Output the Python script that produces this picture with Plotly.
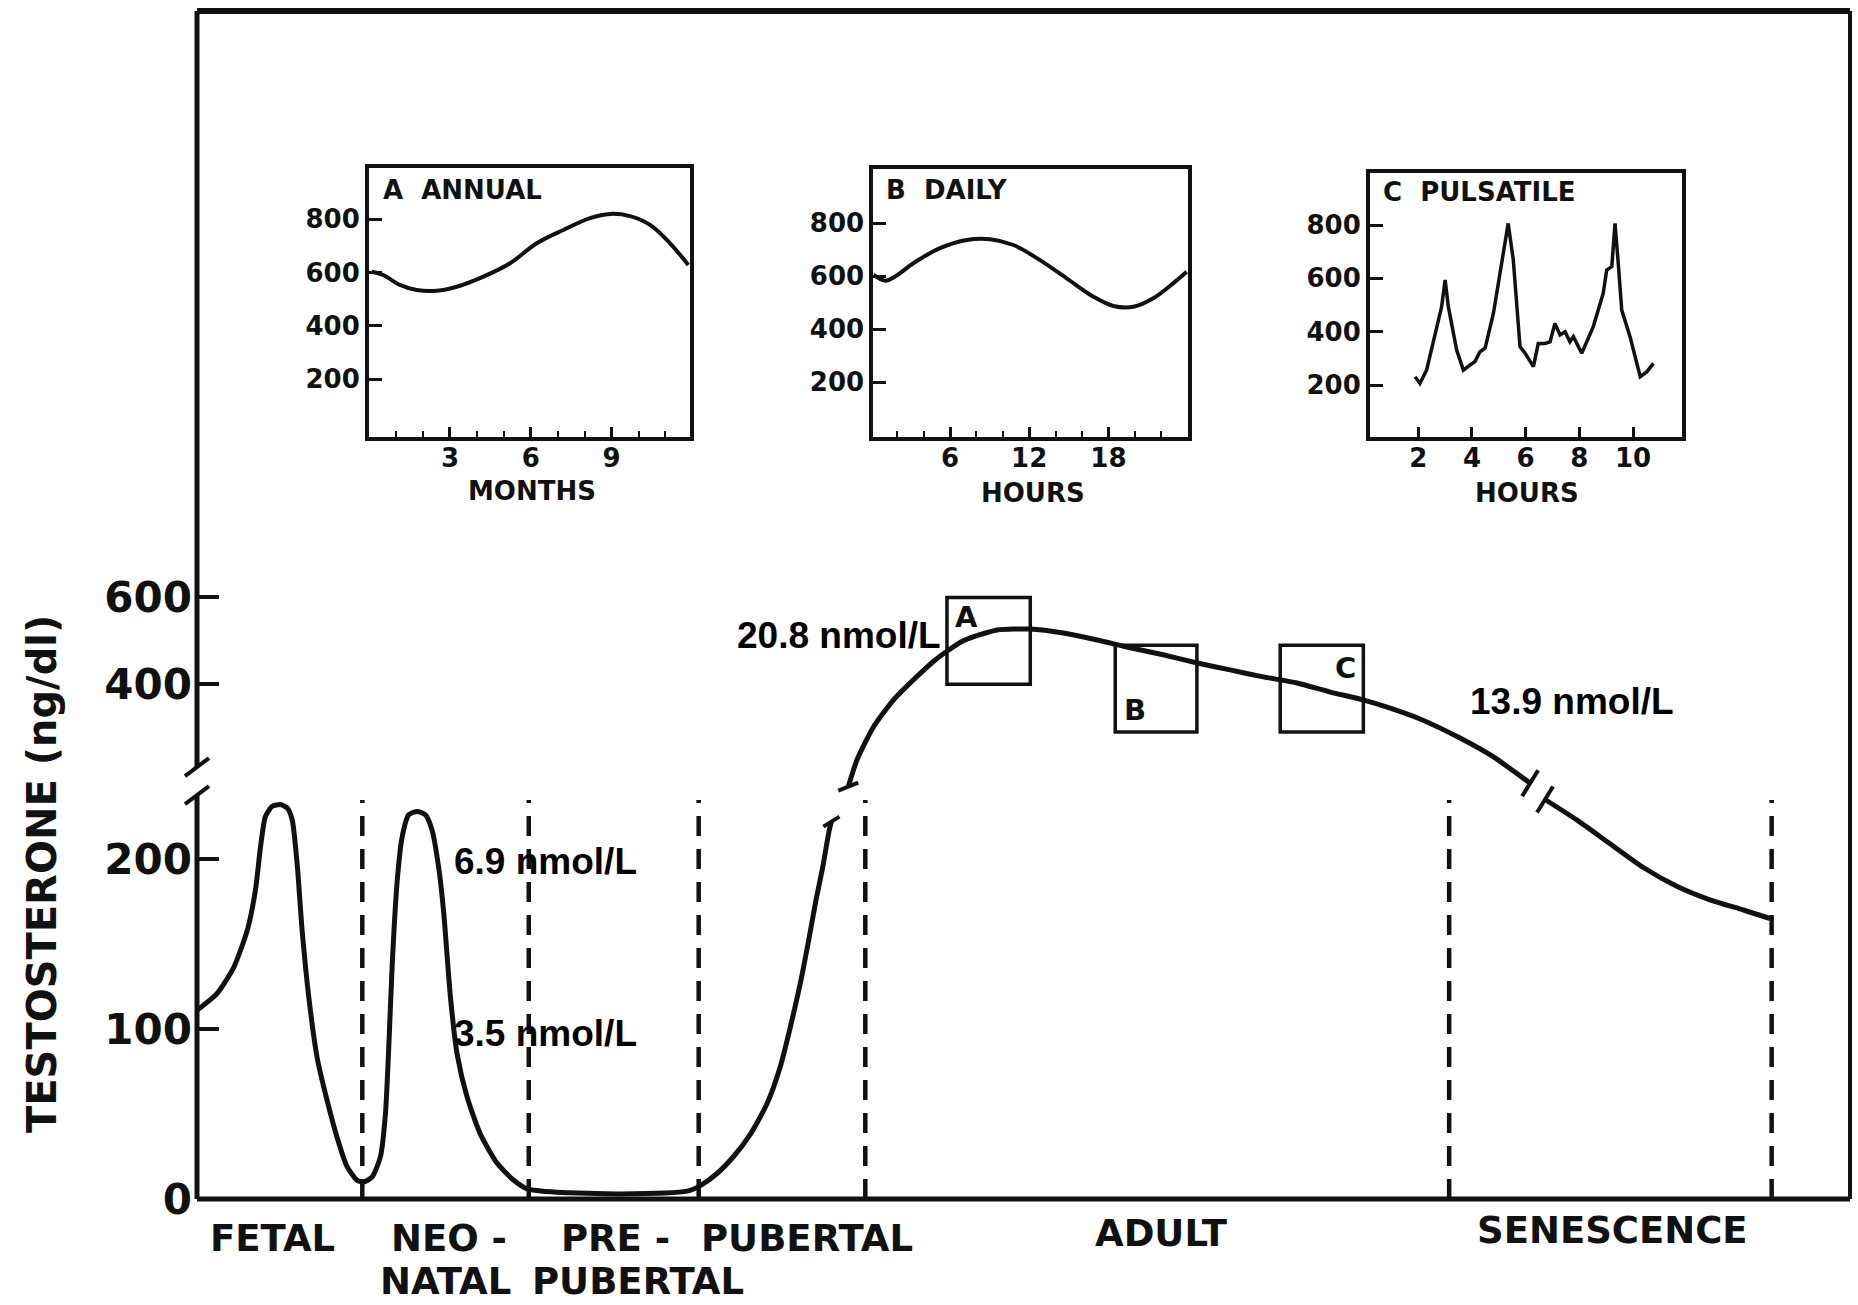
import plotly.graph_objects as go

# ---------------- figure geometry (layout only) ----------------
W, H = 1858, 1305
ML, MR, MT, MB = 197, 8, 11, 106
PW = W - ML - MR
PH = H - MT - MB


def px_x(X):
    return (X - ML) / PW


def px_y(Y):
    return (H - MB - Y) / PH


LOW_PX_PER_UNIT = 1.70          # lower (linear) part of the broken axis
HIGH_400_LOW = 302.8            # where 400 ng/dl sits on the lower scale
HIGH_RATIO = 0.2553             # upper-scale compression

# ---------------- data ----------------
stage_bounds = [10.0, 20.07, 30.35, 40.43, 75.75, 95.26]
stage_names = ["FETAL", "NEO -", "NATAL", "PRE -", "PUBERTAL", "PUBERTAL", "ADULT", "SENESCENCE"]
stage_label_x = [4.54, 15.27, 15.03, 25.31, 26.67, 36.89, 58.33, 85.65]
stage_label_y = [1238, 1238, 1281, 1238, 1281, 1238, 1233, 1230]

low_ticks = [0, 100, 200]
high_ticks = [400, 600]

# fetal -> neonatal -> prepubertal -> pubertal rise (lower scale, ng/dl)
early_x = [0.0, 1.22, 2.21, 3.04, 3.54, 3.84, 4.14, 4.55, 5.05, 5.46,
           5.76, 6.06, 6.36, 6.76, 7.27, 7.87, 8.48, 9.08, 9.69, 10.09,
           10.60, 11.10, 11.40, 11.60, 11.81, 12.11, 12.41, 12.81, 13.32, 13.82,
           14.22, 14.62, 14.93, 15.33, 15.74, 16.34, 17.15, 18.16, 19.16, 19.97,
           21.78, 25.61, 29.65, 30.45, 31.46, 32.46, 33.47, 34.48, 35.29, 35.89,
           36.50, 37.00, 37.45, 37.85, 38.25, 38.38]
early_t = [111, 121, 136, 158, 182, 207, 225, 231, 232, 230,
           223, 197, 158, 119, 83, 58, 36, 19, 11, 10,
           13, 25, 50, 89, 138, 187, 213, 226, 228, 226,
           217, 195, 168, 119, 85, 60, 38, 21, 11, 6,
           4, 3, 4.6, 7.9, 15, 25, 38, 56, 78, 101,
           127, 152, 176, 195, 217, 222]

# adult plateau (upper scale, ng/dl)
adult_x = [39.4, 39.93, 40.93, 42.14, 43.56, 44.66, 46.36, 48.41, 50.41, 52.40,
           54.46, 56.45, 58.45, 60.51, 62.50, 64.50, 66.55, 68.55, 70.54, 72.18,
           73.99, 76.41, 78.41, 80.65]
adult_t = [164, 226, 302, 364, 418, 456, 500, 525, 527, 518,
           502, 484, 468, 449, 433, 417, 403, 382, 364, 345,
           320, 276, 233, 172]

# senescence (lower scale, ng/dl)
late_x = [81.55, 83.47, 85.48, 87.50, 89.52, 91.53, 93.55, 95.16]
late_t = [235, 223, 209, 195, 184, 176, 170, 165]

# windows A, B, C on the adult curve (upper scale)
window_names = ["A", "B", "C"]
window_x0 = [45.37, 55.55, 65.53]
window_x1 = [50.41, 60.49, 70.56]
window_t0 = [400, 290, 290]
window_t1 = [600, 490, 490]
window_label_x = [46.58, 56.76, 69.46]
window_label_t = [556, 341, 437]

conv_labels = ["20.8 nmol/L", "6.9 nmol/L", "3.5 nmol/L", "13.9 nmol/L"]
conv_x = [32.55, 15.41, 15.41, 76.91]
conv_ypx = [635, 861, 1033, 701]

# inset A: annual
annual_month = [0.09, 0.52, 1.14, 1.76, 2.51, 3.25, 4.24, 5.23, 6.22, 7.21,
                8.20, 8.94, 9.68, 10.43, 11.17, 11.85]
annual_t = [603, 591, 554, 535, 532, 547, 585, 635, 710, 760,
            804, 820, 812, 779, 710, 629]
annual_ticks = [3, 6, 9]

# inset B: daily
daily_hour = [0.2, 1.1, 1.9, 3.22, 5.24, 7.27, 9.03, 10.80, 12.82, 14.84,
              16.86, 18.37, 19.89, 21.40, 22.92, 23.93]
daily_t = [605, 582, 600, 648, 705, 736, 739, 717, 660, 591,
           522, 487, 484, 516, 573, 616]
daily_ticks = [6, 12, 18]

# inset C: pulsatile
pulse_hour = [1.88, 2.06, 2.31, 2.62, 2.87, 3.00, 3.12, 3.43, 3.68, 3.93,
              4.11, 4.30, 4.49, 4.80, 5.11, 5.35, 5.54, 5.79, 5.98, 6.29,
              6.47, 6.72, 6.91, 7.09, 7.28, 7.47, 7.65, 7.78, 8.09, 8.52,
              8.89, 9.02, 9.21, 9.33, 9.46, 9.58, 9.89, 10.27, 10.52, 10.76]
pulse_t = [231, 206, 256, 381, 494, 594, 494, 331, 256, 275,
           288, 325, 338, 469, 669, 806, 669, 344, 319, 269,
           356, 356, 362, 431, 388, 400, 362, 381, 319, 419,
           544, 631, 644, 806, 644, 481, 381, 231, 250, 281]
pulse_ticks = [2, 4, 6, 8, 10]

inset_ticks = [200, 400, 600, 800]

# ---------------- figure ----------------
BLACK = "#111111"
BOLD_DJ = "DejaVu Sans"

fig = go.Figure()
main_line = dict(color=BLACK, width=5, shape="spline", smoothing=0.6)
fig.add_trace(go.Scatter(x=early_x, y=early_t, mode="lines", line=main_line,
                         xaxis="x", yaxis="y", hoverinfo="skip"))
fig.add_trace(go.Scatter(x=adult_x, y=adult_t, mode="lines", line=main_line,
                         xaxis="x", yaxis="y2", hoverinfo="skip"))
fig.add_trace(go.Scatter(x=late_x, y=late_t, mode="lines", line=main_line,
                         xaxis="x", yaxis="y", hoverinfo="skip"))

fig.add_trace(go.Scatter(x=annual_month, y=annual_t, mode="lines",
                         line=dict(color=BLACK, width=4, shape="spline"),
                         xaxis="x2", yaxis="y3", hoverinfo="skip"))
fig.add_trace(go.Scatter(x=daily_hour, y=daily_t, mode="lines",
                         line=dict(color=BLACK, width=4, shape="spline"),
                         xaxis="x3", yaxis="y4", hoverinfo="skip"))
fig.add_trace(go.Scatter(x=pulse_hour, y=pulse_t, mode="lines",
                         line=dict(color=BLACK, width=3.5),
                         xaxis="x4", yaxis="y5", hoverinfo="skip"))

low_range = [0, PH / LOW_PX_PER_UNIT]
high_range = [400 - HIGH_400_LOW / HIGH_RATIO,
              400 + (low_range[1] - HIGH_400_LOW) / HIGH_RATIO]

main_tickfont = dict(family=BOLD_DJ, size=42, color=BLACK, weight="bold")
common_main_y = dict(ticks="inside", ticklen=22, tickwidth=4, tickcolor=BLACK,
                     showline=False, showgrid=False, zeroline=False,
                     tickfont=main_tickfont, fixedrange=True, ticklabelstandoff=4)

inset_font = dict(family=BOLD_DJ, size=26, color=BLACK, weight="bold")


def inset_x(left, right, zero_px, px_per, ticks, anchor):
    return dict(domain=[px_x(left), px_x(right)], anchor=anchor,
                range=[(left - zero_px) / px_per, (right - zero_px) / px_per],
                tickmode="array", tickvals=ticks, ticks="inside", ticklen=10,
                tickwidth=3, tickcolor=BLACK, showline=True, mirror=True,
                linewidth=4, linecolor=BLACK, showgrid=False, zeroline=False,
                tickfont=inset_font, fixedrange=True, ticklabelstandoff=-6)


def inset_y(top, bottom, ref_val, ref_px, px_per, anchor):
    return dict(domain=[px_y(bottom), px_y(top)], anchor=anchor,
                range=[ref_val - (bottom - ref_px) / px_per, ref_val + (ref_px - top) / px_per],
                tickmode="array", tickvals=inset_ticks, ticks="inside", ticklen=13,
                tickwidth=3, tickcolor=BLACK, showline=True, mirror=True,
                linewidth=4, linecolor=BLACK, showgrid=False, zeroline=False,
                tickfont=inset_font, fixedrange=True)


layout = dict(
    width=W, height=H,
    margin=dict(l=ML, r=MR, t=MT, b=MB, pad=0),
    paper_bgcolor="white", plot_bgcolor="white",
    showlegend=False,
    xaxis=dict(domain=[0, 1], range=[0, 100], showline=False, showticklabels=False,
               ticks="", showgrid=False, zeroline=False, fixedrange=True, anchor="y"),
    yaxis=dict(domain=[0, 1], range=low_range, tickmode="array", tickvals=low_ticks,
               anchor="x", **common_main_y),
    yaxis2=dict(overlaying="y", side="left", anchor="x", range=high_range,
                tickmode="array", tickvals=high_ticks, **common_main_y),
    xaxis2=inset_x(369, 690, 369.2, 26.93, annual_ticks, "y3"),
    yaxis3=inset_y(168.3, 437.3, 200, 379.3, 0.2667, "x2"),
    xaxis3=inset_x(873.3, 1188.3, 870.8, 13.2, daily_ticks, "y4"),
    yaxis4=inset_y(169.3, 437.3, 600, 276, 0.265, "x3"),
    xaxis4=inset_x(1370, 1681.7, 1364.6, 26.84, pulse_ticks, "y5"),
    yaxis5=inset_y(172.7, 437.3, 800, 225, 0.2667, "x4"),
)
fig.update_layout(**layout)
fig.update_xaxes(minor=dict(ticks="inside", ticklen=6, tickwidth=2, tickcolor=BLACK, dtick=1),
                 selector=dict(anchor="y3"))
fig.update_xaxes(minor=dict(ticks="inside", ticklen=6, tickwidth=2, tickcolor=BLACK, dtick=2),
                 selector=dict(anchor="y4"))

shapes = []
frame = dict(color=BLACK, width=5)
# outer frame (top, right, bottom)
shapes.append(dict(type="line", xref="paper", yref="paper", x0=0, x1=1, y0=1, y1=1, line=dict(color=BLACK, width=6)))
shapes.append(dict(type="line", xref="paper", yref="paper", x0=1, x1=1, y0=0, y1=1, line=dict(color=BLACK, width=4)))
shapes.append(dict(type="line", xref="paper", yref="paper", x0=0, x1=1, y0=0, y1=0, line=frame))
# broken y axis
y_break_low, y_break_high = 237.6, 254.1
shapes.append(dict(type="line", xref="paper", yref="y", x0=0, x1=0, y0=0, y1=y_break_low, line=frame))
shapes.append(dict(type="line", xref="paper", yref="y", x0=0, x1=0, y0=y_break_high, y1=low_range[1], line=frame))
for yb in (y_break_low, y_break_high):
    shapes.append(dict(type="line", xref="paper", yref="y", xsizemode="pixel", xanchor=0,
                       ysizemode="pixel", yanchor=yb, x0=-12, x1=12, y0=-9, y1=9,
                       line=dict(color=BLACK, width=4)))
# stage boundaries
for xb in stage_bounds:
    shapes.append(dict(type="line", xref="x", yref="y", x0=xb, x1=xb, y0=0, y1=234.7,
                       line=dict(color=BLACK, width=4.5, dash="20px,13px")))
# windows A, B, C
for x0, x1, t0, t1 in zip(window_x0, window_x1, window_t0, window_t1):
    shapes.append(dict(type="rect", xref="x", yref="y2", x0=x0, x1=x1, y0=t0, y1=t1,
                       line=dict(color=BLACK, width=3.5), fillcolor="rgba(0,0,0,0)"))
# break marks on the curve
breaks = [("y", early_x[-1], early_t[-1], 8, 5),
          ("y2", adult_x[0], adult_t[0], 10, 4),
          ("y2", adult_x[-1], adult_t[-1], 8, 13),
          ("y", late_x[0], late_t[0], 8, 13)]
for yr, bx, by, dx, dy in breaks:
    shapes.append(dict(type="line", xref="x", yref=yr, xsizemode="pixel", xanchor=bx,
                       ysizemode="pixel", yanchor=by, x0=-dx, x1=dx, y0=-dy, y1=dy,
                       line=dict(color=BLACK, width=4)))
fig.update_layout(shapes=shapes)

ann = []
# y title
ann.append(dict(text="TESTOSTERONE (ng/dl)", xref="paper", yref="paper",
                x=px_x(42), y=px_y(874), textangle=-90, showarrow=False,
                xanchor="center", yanchor="middle",
                font=dict(family=BOLD_DJ, size=40, color=BLACK, weight="bold")))
# stage labels
for name, sx, sy in zip(stage_names, stage_label_x, stage_label_y):
    ann.append(dict(text=name, xref="x", yref="paper", x=sx, y=px_y(sy), showarrow=False,
                    xanchor="center", yanchor="middle",
                    font=dict(family=BOLD_DJ, size=37, color=BLACK, weight="bold")))
# window letters
for name, lx, lt in zip(window_names, window_label_x, window_label_t):
    ann.append(dict(text=name, xref="x", yref="y2", x=lx, y=lt, showarrow=False,
                    xanchor="center", yanchor="middle",
                    font=dict(family=BOLD_DJ, size=29, color=BLACK, weight="bold")))
# nmol/L labels
for txt, cx, cy in zip(conv_labels, conv_x, conv_ypx):
    ann.append(dict(text=txt, xref="x", yref="paper", x=cx, y=px_y(cy), showarrow=False,
                    xanchor="left", yanchor="middle",
                    font=dict(family="Liberation Sans, Arial", size=37, color="black", weight="bold")))
# inset titles
ann.append(dict(text="A  ANNUAL", xref="x2", yref="y3", x=0.45, y=910, showarrow=False,
                xanchor="left", yanchor="middle", font=inset_font))
ann.append(dict(text="B  DAILY", xref="x3", yref="y4", x=1.0, y=924, showarrow=False,
                xanchor="left", yanchor="middle", font=inset_font))
ann.append(dict(text="C  PULSATILE", xref="x4", yref="y5", x=0.62, y=925, showarrow=False,
                xanchor="left", yanchor="middle", font=inset_font))
# inset axis titles
ann.append(dict(text="MONTHS", xref="x2", yref="paper", x=6.04, y=px_y(491), showarrow=False,
                xanchor="center", yanchor="middle", font=inset_font))
ann.append(dict(text="HOURS", xref="x3", yref="paper", x=12.25, y=px_y(493), showarrow=False,
                xanchor="center", yanchor="middle", font=inset_font))
ann.append(dict(text="HOURS", xref="x4", yref="paper", x=6.04, y=px_y(493), showarrow=False,
                xanchor="center", yanchor="middle", font=inset_font))
fig.update_layout(annotations=ann)

fig.write_html("out.html", config=dict(displayModeBar=False, staticPlot=True),
               post_script="document.body.style.margin='0';document.body.style.overflow='hidden';")
